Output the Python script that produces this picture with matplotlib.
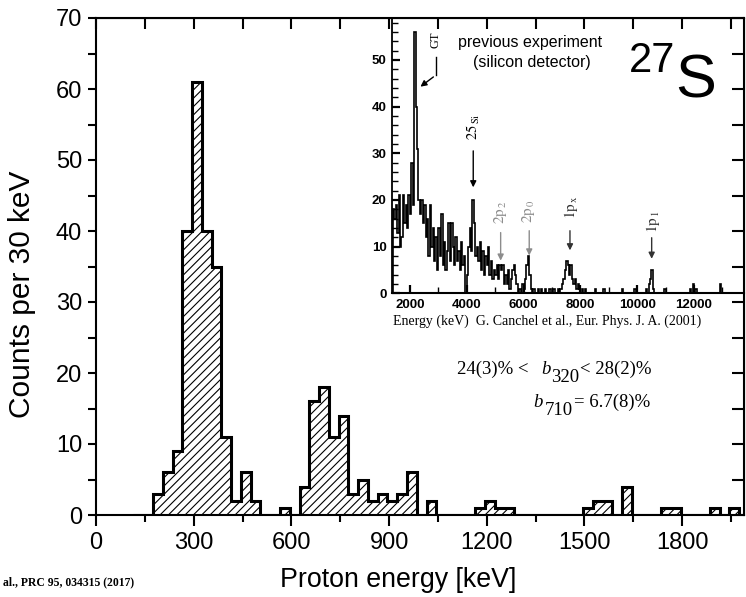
import numpy as np
import matplotlib
matplotlib.use("Agg")
import matplotlib.pyplot as plt
from matplotlib.ticker import MultipleLocator

# ---------------- data ----------------
# main histogram (Proton energy, 30 keV bins)
main_bin_start = 115
main_bin_width = 30
main_counts = [0, 0, 3, 6, 9, 40, 61, 40, 35, 11, 2, 6, 2, 0, 0, 1, 0, 4, 16, 18,
               11, 14, 3, 5, 2, 3, 2, 3, 6, 0, 2, 0, 0, 0, 0, 1, 2, 1, 1, 0,
               0, 0, 0, 0, 0, 0, 1, 2, 2, 0, 4, 0, 0, 0, 1, 1, 0, 0, 0, 1,
               0, 1]
main_xticks = [0, 300, 600, 900, 1200, 1500, 1800]
main_yticks = [0, 10, 20, 30, 40, 50, 60, 70]

# inset spectrum (previous experiment, 50 keV bins from 1400 keV)
ins_bin_start = 1400
ins_bin_width = 50
ins_dense = [18, 16, 19, 13, 21, 10, 12, 21, 15, 19, 14, 21, 17, 28, 19, 56, 40, 31,
             20, 17, 20, 15, 19, 12, 16, 8, 19, 10, 14, 7, 12, 5, 14, 8, 17, 6,
             11, 5, 9, 15, 7, 15, 10, 6, 12, 7, 9, 5, 11, 6, 8, 0, 4, 10,
             14, 9, 20, 15, 8, 10, 7, 11, 5, 9, 4, 8, 6, 10, 4, 7, 3, 5,
             4, 6, 3, 6, 5, 6, 2, 4, 2, 5, 1, 3, 5, 6, 4, 2, 0, 1,
             0, 2, 1, 3, 6, 8, 4, 1, 0, 1, 0, 0, 1, 0, 1, 0, 0, 1,
             0, 0, 1, 0, 0, 1, 0, 0, 1, 0, 1, 2, 3, 5, 7, 6, 4, 6,
             3, 2, 3, 1, 2, 1, 0, 1, 0, 1, 0]
ins_sparse_E = [8500, 8800, 9450, 9900, 10300, 10400, 10450, 10500, 10550,
                10950, 11850, 11950, 12050, 12900]
ins_sparse_c = [1, 1, 1, 1, 1, 2, 3, 5, 1, 1, 1, 2, 1, 2]
ins_end = 13500
ins_xticks = [2000, 4000, 6000, 8000, 10000, 12000]
ins_yticks = [0, 10, 20, 30, 40, 50]

# ---------------- figure ----------------
W, H = 746, 597
fig = plt.figure(figsize=(W / 100, H / 100), dpi=100)
plt.rcParams['hatch.linewidth'] = 0.8
plt.rcParams['mathtext.fontset'] = 'stix'

def fx(px):
    return px / W

def fy(py):
    return 1 - py / H

SANS = 'Liberation Sans'
SERIF = 'Liberation Serif'

# main axes
ax = fig.add_axes([fx(96), fy(515), fx(744) - fx(96), fy(18) - fy(515)])
ax.set_xlim(0, 1990)
ax.set_ylim(0, 70)

edges = main_bin_start + main_bin_width * np.arange(len(main_counts) + 1)
ax.bar(edges[:-1], main_counts, width=main_bin_width, align='edge',
       facecolor='white', edgecolor='black', linewidth=0, hatch='////', zorder=2)
ax.stairs(main_counts, edges, color='black', linewidth=2.2, zorder=3)

for s in ax.spines.values():
    s.set_linewidth(1.5)
ax.set_xticks(main_xticks)
ax.set_yticks(main_yticks)
ax.xaxis.set_minor_locator(MultipleLocator(150))
ax.yaxis.set_minor_locator(MultipleLocator(5))
ax.tick_params(axis='both', which='both', direction='out', width=1.5,
               labelsize=17, top=False, right=False)
ax.tick_params(axis='x', which='major', length=8, pad=4)
ax.tick_params(axis='x', which='minor', length=5)
ax.tick_params(axis='y', which='major', length=6, pad=4)
ax.tick_params(axis='y', which='minor', length=6)
for lab in ax.get_xticklabels() + ax.get_yticklabels():
    lab.set_fontfamily(SANS)

secx = ax.secondary_xaxis('top')
secx.set_xticks(main_xticks)
secx.xaxis.set_minor_locator(MultipleLocator(150))
secx.tick_params(which='both', direction='in', length=8, width=1.5, labeltop=False)
secy = ax.secondary_yaxis('right')
secy.set_yticks(main_yticks)
secy.yaxis.set_minor_locator(MultipleLocator(5))
secy.tick_params(which='both', direction='in', length=9, width=1.5, labelright=False)

# axis labels
fig.text(fx(398.5), fy(587), 'Proton energy [keV]', ha='center', va='baseline',
         fontsize=19.3, family=SANS)
fig.text(fx(22), fy(294), 'Counts per 30 keV', ha='center', va='center',
         rotation=90, fontsize=21.5, family=SANS)
fig.text(fx(3), fy(585), 'al., PRC 95, 034315 (2017)', ha='left', va='baseline',
         fontsize=8.4, family=SERIF, weight='bold')

# ---------------- inset ----------------
ins = fig.add_axes([fx(392.3), fy(293.3), fx(744) - fx(392.3), fy(18.3) - fy(293.3)])
ins.set_facecolor('none')
ins.set_xlim(1380, 13760)
ins.set_ylim(0, 58.9)
ins.spines['top'].set_visible(False)
ins.spines['right'].set_visible(False)
ins.spines['left'].set_linewidth(1.3)
ins.spines['bottom'].set_linewidth(1.5)

nb = (ins_end - ins_bin_start) // ins_bin_width
ins_counts = np.zeros(nb)
ins_counts[:len(ins_dense)] = ins_dense
for e, c in zip(ins_sparse_E, ins_sparse_c):
    ins_counts[(e - ins_bin_start) // ins_bin_width] = c
ins_edges = ins_bin_start + ins_bin_width * np.arange(nb + 1)
ins.stairs(ins_counts, ins_edges, color='black', linewidth=1.2)

ins.set_xticks(ins_xticks)
ins.set_yticks(ins_yticks)
ins.xaxis.set_minor_locator(MultipleLocator(1000))
ins.yaxis.set_minor_locator(MultipleLocator(2))
ins.tick_params(axis='both', which='both', direction='in')
ins.tick_params(axis='both', which='major', length=6, width=1.6, labelsize=9.5, pad=4)
ins.tick_params(axis='both', which='minor', length=4, width=1.0)
for lab in ins.get_xticklabels() + ins.get_yticklabels():
    lab.set_fontfamily(SANS)
    lab.set_fontweight('bold')

# inset annotations
ins.text(2915, 54.2, 'GT', rotation=90, ha='center', va='center', fontsize=9,
         family=SERIF)
ins.plot([2905, 2905], [50.7, 46.7], color='black', lw=1.0)
ins.annotate('', xy=(2292, 43.9), xytext=(2905, 46.7),
             arrowprops=dict(arrowstyle='-|>', color='black', lw=1.0, mutation_scale=9))

labels = [
    (r'$\mathrm{25_{\,Si}}$', 4219, 35.6, 4229, 31.1, 22.1, 'black', 10.5),
    (r'$\mathrm{2p_{\,2}}$', 5204, 17.4, 5194, 13.6, 6.4, '#8c8c8c', 11),
    (r'$\mathrm{2p_{\,0}}$', 6190, 17.6, 6200, 14.0, 7.5, '#8c8c8c', 11),
    (r'$\mathrm{1p_{\,x}}$', 7670, 18.5, 7634, 14.0, 8.6, '#333333', 11),
    (r'$\mathrm{1p_{\,1}}$', 10560, 15.3, 10510, 12.5, 6.8, '#333333', 11),
]
for txt, tx, ty, axx, y0, y1, col, fs in labels:
    ins.text(tx, ty, txt, rotation=90, ha='center', va='center', fontsize=fs,
             color=col)
    ins.annotate('', xy=(axx, y1), xytext=(axx, y0),
                 arrowprops=dict(arrowstyle='-|>', color=col, lw=1.0, mutation_scale=9))

fig.text(fx(530), fy(47), 'previous experiment', ha='center', va='baseline',
         fontsize=11.5, family=SANS)
fig.text(fx(532), fy(67), '(silicon detector)', ha='center', va='baseline',
         fontsize=11.5, family=SANS)
fig.text(fx(629), fy(72), '27', ha='left', va='baseline', fontsize=30, family=SANS)
fig.text(fx(675), fy(97), 'S', ha='left', va='baseline', fontsize=44, family=SANS)

fig.text(fx(393), fy(325), 'Energy (keV)  G. Canchel et al., Eur. Phys. J. A. (2001)',
         ha='left', va='baseline', fontsize=10, family=SERIF)

# branching ratio texts
fs_b = 13.5
fig.text(fx(456.7), fy(374), '24(3)% <', ha='left', va='baseline', fontsize=fs_b, family=SERIF)
fig.text(fx(541.7), fy(374), 'b', ha='left', va='baseline', fontsize=fs_b, family=SERIF, style='italic')
fig.text(fx(550.7), fy(381.7), '320', ha='left', va='baseline', fontsize=fs_b, family=SERIF)
fig.text(fx(580), fy(374), '< 28(2)%', ha='left', va='baseline', fontsize=fs_b, family=SERIF)

fig.text(fx(533), fy(406.7), 'b', ha='left', va='baseline', fontsize=fs_b, family=SERIF, style='italic')
fig.text(fx(545), fy(415), '710', ha='left', va='baseline', fontsize=fs_b, family=SERIF)
fig.text(fx(574.5), fy(406.7), '= 6.7(8)%', ha='left', va='baseline', fontsize=fs_b, family=SERIF)

fig.savefig('out.png', dpi=100)
